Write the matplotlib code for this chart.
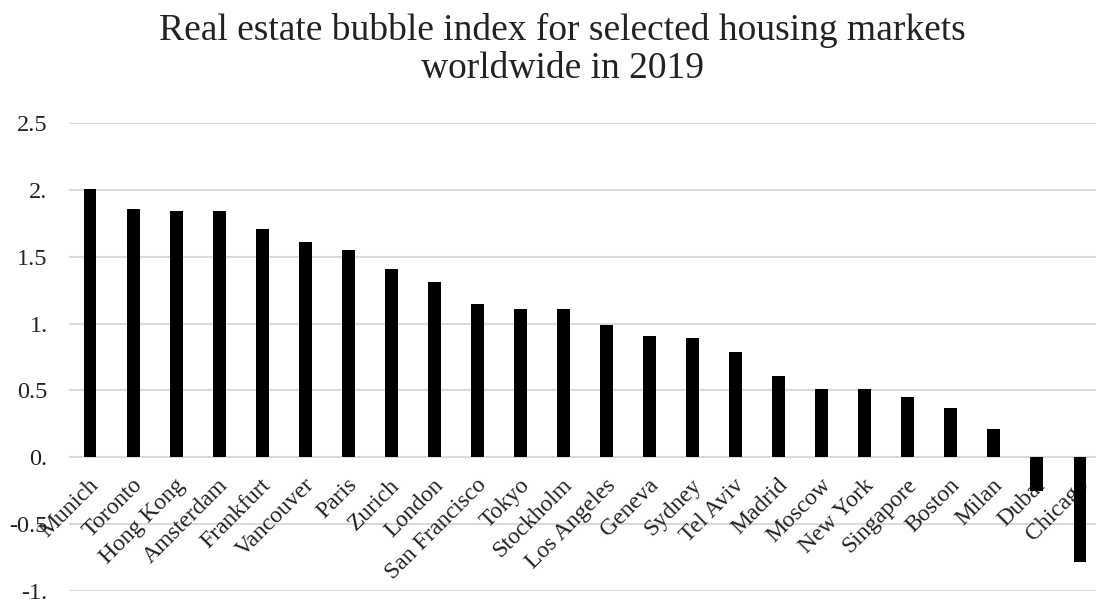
import matplotlib
matplotlib.use("Agg")
import matplotlib.pyplot as plt
from matplotlib.ticker import FixedLocator, FixedFormatter

cities = ["Munich", "Toronto", "Hong Kong", "Amsterdam", "Frankfurt", "Vancouver",
          "Paris", "Zurich", "London", "San Francisco", "Tokyo", "Stockholm",
          "Los Angeles", "Geneva", "Sydney", "Tel Aviv", "Madrid", "Moscow",
          "New York", "Singapore", "Boston", "Milan", "Dubai", "Chicago"]
index_values = [2.01, 1.86, 1.84, 1.84, 1.71, 1.61, 1.55, 1.41, 1.31, 1.15, 1.11, 1.11,
                0.99, 0.91, 0.89, 0.79, 0.61, 0.51, 0.51, 0.45, 0.37, 0.21, -0.25, -0.78]
y_ticks = [-1.0, -0.5, 0.0, 0.5, 1.0, 1.5, 2.0, 2.5]
y_tick_labels = ["-1.", "-0.5", "0.", "0.5", "1.", "1.5", "2.", "2.5"]
title = "Real estate bubble index for selected housing markets\nworldwide in 2019"

plt.rcParams["font.family"] = ["Liberation Serif", "DejaVu Serif"]

W, H = 1096, 602
fig = plt.figure(figsize=(W / 100, H / 100), dpi=100)
left_px, right_px = 68.5, 1101.5
top_px, bottom_px = 123, 591
ax = fig.add_axes([left_px / W, 1 - bottom_px / H,
                   (right_px - left_px) / W, (bottom_px - top_px) / H])

x = list(range(len(cities)))
ax.bar(x, index_values, width=0.3, color="black", zorder=3)

ax.set_xlim(-0.5, len(cities) - 0.5)
ax.set_ylim(-1.0, 2.5)
ax.yaxis.set_major_locator(FixedLocator(y_ticks))
ax.yaxis.set_major_formatter(FixedFormatter(y_tick_labels))
ax.grid(axis="y", color="#d9d9d9", linewidth=1.5, zorder=0)
for s in ax.spines.values():
    s.set_visible(False)
ax.tick_params(axis="y", length=0, pad=15, labelsize=17.5, labelcolor="#222222")
ax.set_xticks([])

# category labels hang just below the zero line, underneath the bars
for xi, name in zip(x, cities):
    ax.text(xi - 0.04, -0.13, name, rotation=45, ha="right", va="top",
            rotation_mode="anchor", fontsize=17, color="#222222", zorder=2)

fig.text(0.513, 0.978, title, ha="center", va="top", fontsize=27,
         color="#222222", linespacing=1.12)

fig.savefig("out.png", dpi=100)
